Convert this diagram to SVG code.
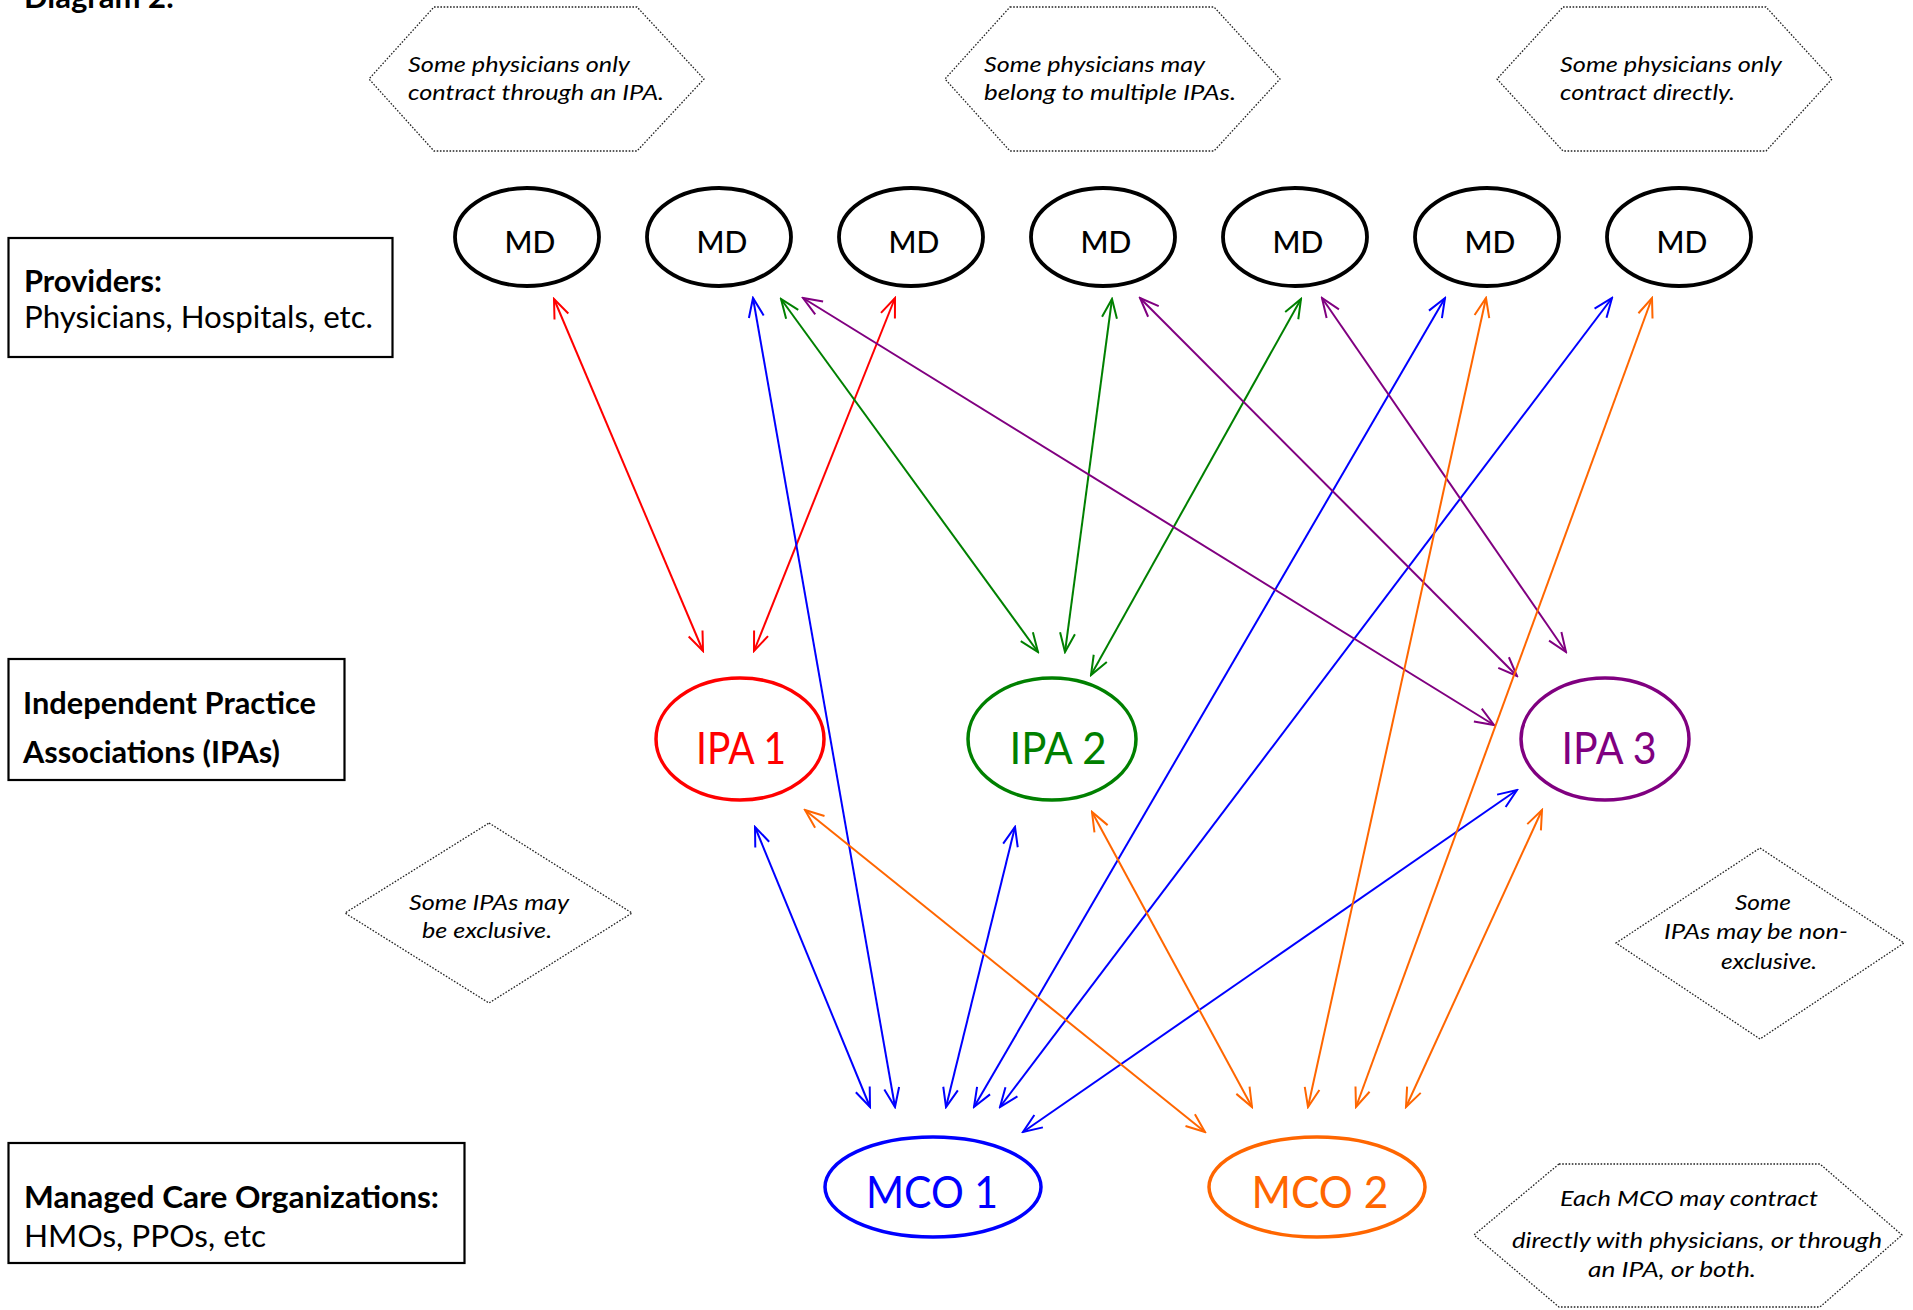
<svg xmlns="http://www.w3.org/2000/svg" width="1913" height="1310" viewBox="0 0 1913 1310">
<style>
.bg{fill:#ffffff}
.lbl{fill:#fff;stroke:#000;stroke-width:2.2}
.t{font-family:Lato,"Open Sans",sans-serif;fill:#000}
.h{font-size:30px;font-weight:700}
.r{font-size:30px}
.note{font-family:Lato,"Open Sans",sans-serif;font-size:21px;font-style:italic;fill:#000}
.dot{fill:none;stroke:#222;stroke-width:1.3;stroke-dasharray:1.6 1.6}
.md{fill:#fff;stroke:#000;stroke-width:3.8}
.mdt{font-family:Lato,"Open Sans",sans-serif;font-size:30px;font-weight:500;fill:#000;text-anchor:middle}
.big{font-family:Lato,"Open Sans",sans-serif;font-size:44px;text-anchor:middle}
.c{fill:none;stroke-width:2}
.red{stroke:#ff0000;marker-start:url(#aR);marker-end:url(#aR)}
.blue{stroke:#0000ff;marker-start:url(#aB);marker-end:url(#aB)}
.green{stroke:#008000;marker-start:url(#aG);marker-end:url(#aG)}
.purple{stroke:#800080;marker-start:url(#aP);marker-end:url(#aP)}
.orange{stroke:#ff6600;marker-start:url(#aO);marker-end:url(#aO)}
</style>
<defs>
<marker id="aR" markerUnits="userSpaceOnUse" markerWidth="22" markerHeight="18" viewBox="0 0 22 18" refX="20" refY="9" orient="auto-start-reverse"><path d="M1,1.5 L20,9 L1,16.5" fill="none" stroke="#ff0000" stroke-width="2"/></marker>
<marker id="aB" markerUnits="userSpaceOnUse" markerWidth="22" markerHeight="18" viewBox="0 0 22 18" refX="20" refY="9" orient="auto-start-reverse"><path d="M1,1.5 L20,9 L1,16.5" fill="none" stroke="#0000ff" stroke-width="2"/></marker>
<marker id="aG" markerUnits="userSpaceOnUse" markerWidth="22" markerHeight="18" viewBox="0 0 22 18" refX="20" refY="9" orient="auto-start-reverse"><path d="M1,1.5 L20,9 L1,16.5" fill="none" stroke="#008000" stroke-width="2"/></marker>
<marker id="aP" markerUnits="userSpaceOnUse" markerWidth="22" markerHeight="18" viewBox="0 0 22 18" refX="20" refY="9" orient="auto-start-reverse"><path d="M1,1.5 L20,9 L1,16.5" fill="none" stroke="#800080" stroke-width="2"/></marker>
<marker id="aO" markerUnits="userSpaceOnUse" markerWidth="22" markerHeight="18" viewBox="0 0 22 18" refX="20" refY="9" orient="auto-start-reverse"><path d="M1,1.5 L20,9 L1,16.5" fill="none" stroke="#ff6600" stroke-width="2"/></marker>
</defs>
<rect class="bg" x="0" y="0" width="1913" height="1310"/>

<g id="title"><text class="t h" x="24" y="8" textLength="150" lengthAdjust="spacingAndGlyphs">Diagram 2:</text></g>

<g id="label-providers">
<rect class="lbl" x="8.5" y="238" width="384" height="119"/>
<text class="t h" x="24" y="292" textLength="138" lengthAdjust="spacingAndGlyphs">Providers:</text>
<text class="t r" x="24" y="328" textLength="349" lengthAdjust="spacingAndGlyphs">Physicians, Hospitals, etc.</text>
</g>
<g id="label-ipas">
<rect class="lbl" x="8.5" y="659" width="336" height="121"/>
<text class="t h" x="23" y="714" textLength="293" lengthAdjust="spacingAndGlyphs">Independent Practice</text>
<text class="t h" x="23" y="763" textLength="257" lengthAdjust="spacingAndGlyphs">Associations (IPAs)</text>
</g>
<g id="label-mcos">
<rect class="lbl" x="8.5" y="1143" width="456" height="120"/>
<text class="t h" x="24" y="1208" textLength="415" lengthAdjust="spacingAndGlyphs">Managed Care Organizations:</text>
<text class="t r" x="24" y="1247" textLength="242" lengthAdjust="spacingAndGlyphs">HMOs, PPOs, etc</text>
</g>

<g id="note-ipa-only">
<polygon class="dot" points="434,7 637,7 704,79 637,151 434,151 369,79"/>
<text class="note" x="408" y="72" textLength="222" lengthAdjust="spacingAndGlyphs">Some physicians only</text>
<text class="note" x="408" y="100" textLength="256" lengthAdjust="spacingAndGlyphs">contract through an IPA.</text>
</g>
<g id="note-multiple">
<polygon class="dot" points="1010,7 1214,7 1280,79 1214,151 1010,151 945,79"/>
<text class="note" x="984" y="72" textLength="221" lengthAdjust="spacingAndGlyphs">Some physicians may</text>
<text class="note" x="984" y="100" textLength="252" lengthAdjust="spacingAndGlyphs">belong to multiple IPAs.</text>
</g>
<g id="note-direct">
<polygon class="dot" points="1563,7 1766,7 1832,79 1766,151 1563,151 1497,79"/>
<text class="note" x="1560" y="72" textLength="222" lengthAdjust="spacingAndGlyphs">Some physicians only</text>
<text class="note" x="1560" y="100" textLength="175" lengthAdjust="spacingAndGlyphs">contract directly.</text>
</g>
<g id="note-exclusive">
<polygon class="dot" points="489,823 632,913 489,1003 345,913"/>
<text class="note" x="409" y="910" textLength="160" lengthAdjust="spacingAndGlyphs">Some IPAs may</text>
<text class="note" x="422" y="938" textLength="130" lengthAdjust="spacingAndGlyphs">be exclusive.</text>
</g>
<g id="note-nonexclusive">
<polygon class="dot" points="1760,848 1904,943 1760,1039 1616,943"/>
<text class="note" x="1735" y="910" textLength="56" lengthAdjust="spacingAndGlyphs">Some</text>
<text class="note" x="1664" y="939" textLength="184" lengthAdjust="spacingAndGlyphs">IPAs may be non-</text>
<text class="note" x="1721" y="969" textLength="96" lengthAdjust="spacingAndGlyphs">exclusive.</text>
</g>
<g id="note-mco">
<polygon class="dot" points="1559,1164 1820,1164 1902,1235 1820,1307 1559,1307 1474,1235"/>
<text class="note" x="1560" y="1206" textLength="258" lengthAdjust="spacingAndGlyphs">Each MCO may contract</text>
<text class="note" x="1512" y="1248" textLength="370" lengthAdjust="spacingAndGlyphs">directly with physicians, or through</text>
<text class="note" x="1588" y="1277" textLength="168" lengthAdjust="spacingAndGlyphs">an IPA, or both.</text>
</g>

<g id="connectors">
<line class="c red" x1="554" y1="299" x2="703" y2="651"/>
<line class="c red" x1="895" y1="298" x2="754" y2="651"/>
<line class="c blue" x1="753" y1="298" x2="895" y2="1107"/>
<line class="c blue" x1="1445" y1="298" x2="974" y2="1107"/>
<line class="c blue" x1="1612" y1="298" x2="1000" y2="1107"/>
<line class="c blue" x1="755" y1="827" x2="870" y2="1107"/>
<line class="c blue" x1="1015" y1="827" x2="946" y2="1107"/>
<line class="c blue" x1="1517" y1="790" x2="1023" y2="1132"/>
<line class="c green" x1="781" y1="299" x2="1038" y2="652"/>
<line class="c green" x1="1112" y1="299" x2="1065" y2="652"/>
<line class="c green" x1="1301" y1="299" x2="1091" y2="675"/>
<line class="c purple" x1="803" y1="298" x2="1494" y2="725"/>
<line class="c purple" x1="1140" y1="298" x2="1517" y2="676"/>
<line class="c purple" x1="1322" y1="298" x2="1566" y2="652"/>
<line class="c orange" x1="1486" y1="298" x2="1308" y2="1107"/>
<line class="c orange" x1="1652" y1="298" x2="1356" y2="1107"/>
<line class="c orange" x1="805" y1="810" x2="1205" y2="1132"/>
<line class="c orange" x1="1092" y1="812" x2="1252" y2="1107"/>
<line class="c orange" x1="1542" y1="810" x2="1406" y2="1107"/>
</g>

<g id="md1"><ellipse class="md" cx="527" cy="237" rx="72" ry="49"/><text class="mdt" x="530" y="253">MD</text></g>
<g id="md2"><ellipse class="md" cx="719" cy="237" rx="72" ry="49"/><text class="mdt" x="722" y="253">MD</text></g>
<g id="md3"><ellipse class="md" cx="911" cy="237" rx="72" ry="49"/><text class="mdt" x="914" y="253">MD</text></g>
<g id="md4"><ellipse class="md" cx="1103" cy="237" rx="72" ry="49"/><text class="mdt" x="1106" y="253">MD</text></g>
<g id="md5"><ellipse class="md" cx="1295" cy="237" rx="72" ry="49"/><text class="mdt" x="1298" y="253">MD</text></g>
<g id="md6"><ellipse class="md" cx="1487" cy="237" rx="72" ry="49"/><text class="mdt" x="1490" y="253">MD</text></g>
<g id="md7"><ellipse class="md" cx="1679" cy="237" rx="72" ry="49"/><text class="mdt" x="1682" y="253">MD</text></g>

<g id="ipa1"><ellipse cx="740" cy="739" rx="84" ry="61" fill="#fff" stroke="#ff0000" stroke-width="3.5"/><text class="big" x="741" y="764" fill="#ff0000" textLength="90" lengthAdjust="spacingAndGlyphs">IPA 1</text></g>
<g id="ipa2"><ellipse cx="1052" cy="739" rx="84" ry="61" fill="#fff" stroke="#008000" stroke-width="3.5"/><text class="big" x="1058" y="764" fill="#008000" textLength="97" lengthAdjust="spacingAndGlyphs">IPA 2</text></g>
<g id="ipa3"><ellipse cx="1605" cy="739" rx="84" ry="61" fill="#fff" stroke="#800080" stroke-width="3.5"/><text class="big" x="1609" y="764" fill="#800080" textLength="95" lengthAdjust="spacingAndGlyphs">IPA 3</text></g>
<g id="mco1"><ellipse cx="933" cy="1187" rx="108" ry="50" fill="#fff" stroke="#0000ff" stroke-width="3.5"/><text class="big" x="932" y="1208" fill="#0000ff" textLength="132" lengthAdjust="spacingAndGlyphs">MCO 1</text></g>
<g id="mco2"><ellipse cx="1317" cy="1187" rx="108" ry="50" fill="#fff" stroke="#ff6600" stroke-width="3.5"/><text class="big" x="1320" y="1208" fill="#ff6600" textLength="137" lengthAdjust="spacingAndGlyphs">MCO 2</text></g>
</svg>
